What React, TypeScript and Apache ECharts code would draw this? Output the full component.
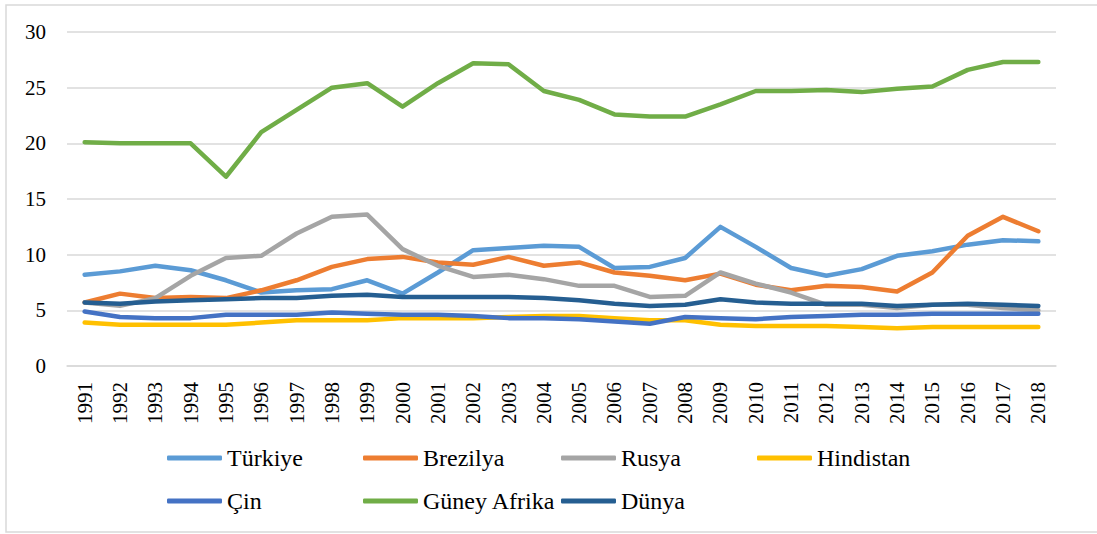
import React, { useEffect, useRef } from "react";
import * as echarts from "echarts";

const years = ["1991","1992","1993","1994","1995","1996","1997","1998","1999","2000","2001","2002","2003","2004","2005","2006","2007","2008","2009","2010","2011","2012","2013","2014","2015","2016","2017","2018"];
const yTicks = [0, 5, 10, 15, 20, 25, 30];

const turkiye = [8.2, 8.5, 9.0, 8.6, 7.7, 6.6, 6.8, 6.9, 7.7, 6.5, 8.4, 10.4, 10.6, 10.8, 10.7, 8.8, 8.9, 9.7, 12.5, 10.7, 8.8, 8.1, 8.7, 9.9, 10.3, 10.9, 11.3, 11.2];
const brezilya = [5.7, 6.5, 6.1, 6.2, 6.1, 6.8, 7.7, 8.9, 9.6, 9.8, 9.3, 9.1, 9.8, 9.0, 9.3, 8.4, 8.1, 7.7, 8.3, 7.3, 6.8, 7.2, 7.1, 6.7, 8.4, 11.7, 13.4, 12.1];
const rusya = [5.7, 5.4, 6.1, 8.1, 9.7, 9.9, 11.9, 13.4, 13.6, 10.5, 9.0, 8.0, 8.2, 7.8, 7.2, 7.2, 6.2, 6.3, 8.4, 7.4, 6.6, 5.5, 5.5, 5.2, 5.5, 5.5, 5.2, 5.0];
const hindistan = [3.9, 3.7, 3.7, 3.7, 3.7, 3.9, 4.1, 4.1, 4.1, 4.3, 4.3, 4.3, 4.4, 4.5, 4.5, 4.3, 4.1, 4.1, 3.7, 3.6, 3.6, 3.6, 3.5, 3.4, 3.5, 3.5, 3.5, 3.5];
const cin = [4.9, 4.4, 4.3, 4.3, 4.6, 4.6, 4.6, 4.8, 4.7, 4.6, 4.6, 4.5, 4.3, 4.3, 4.2, 4.0, 3.8, 4.4, 4.3, 4.2, 4.4, 4.5, 4.6, 4.6, 4.7, 4.7, 4.7, 4.7];
const guneyAfrika = [20.1, 20.0, 20.0, 20.0, 17.0, 21.0, 23.0, 25.0, 25.4, 23.3, 25.4, 27.2, 27.1, 24.7, 23.9, 22.6, 22.4, 22.4, 23.5, 24.7, 24.7, 24.8, 24.6, 24.9, 25.1, 26.6, 27.3, 27.3];
const dunya = [5.7, 5.6, 5.8, 5.9, 6.0, 6.1, 6.1, 6.3, 6.4, 6.2, 6.2, 6.2, 6.2, 6.1, 5.9, 5.6, 5.4, 5.5, 6.0, 5.7, 5.6, 5.6, 5.6, 5.4, 5.5, 5.6, 5.5, 5.4];

const seriesNames = ["Türkiye", "Brezilya", "Rusya", "Hindistan", "Çin", "Güney Afrika", "Dünya"];
const seriesData = [turkiye, brezilya, rusya, hindistan, cin, guneyAfrika, dunya];
const colors = ["#5B9BD5", "#ED7D31", "#A5A5A5", "#FFC000", "#4472C4", "#70AD47", "#255E91"];

const FONT = "Liberation Serif";

const legendPos = [
  { left: 167, top: 446 },
  { left: 363, top: 446 },
  { left: 561, top: 446 },
  { left: 757, top: 446 },
  { left: 167, top: 489 },
  { left: 363, top: 489 },
  { left: 561, top: 489 },
];

export default function App() {
  const ref = useRef<HTMLDivElement>(null);
  useEffect(() => {
    if (!ref.current) return;
    const chart = echarts.init(ref.current, undefined, { renderer: "svg" });
    chart.setOption({
      animation: false,
      backgroundColor: "#ffffff",
      textStyle: { fontFamily: FONT },
      graphic: [
        {
          type: "rect",
          shape: { x: 6, y: 5, width: 1100, height: 527 },
          style: { fill: "none", stroke: "#D9D9D9", lineWidth: 1.5 },
          silent: true,
        },
      ],
      legend: seriesNames.map((n, i) => ({
        data: [n],
        left: legendPos[i].left,
        top: legendPos[i].top,
        padding: 0,
        icon: "roundRect",
        itemWidth: 55,
        itemHeight: 5,
        textStyle: { fontFamily: FONT, fontSize: 24, color: "#000" },
      })),
      grid: { left: 67, right: 41, top: 32, bottom: 168 },
      xAxis: {
        type: "category",
        data: years,
        boundaryGap: true,
        axisLine: { show: true, lineStyle: { color: "#D9D9D9", width: 1.5 } },
        axisTick: { show: false },
        axisLabel: {
          interval: 0,
          rotate: 90,
          margin: 16,
          fontFamily: FONT,
          fontSize: 21,
          color: "#000",
        },
      },
      yAxis: {
        type: "value",
        min: yTicks[0],
        max: yTicks[yTicks.length - 1],
        interval: 5,
        axisLine: { show: false },
        axisTick: { show: false },
        splitLine: { lineStyle: { color: "#D9D9D9", width: 1.5 } },
        axisLabel: { margin: 21, fontFamily: FONT, fontSize: 21, color: "#000" },
      },
      series: seriesNames.map((n, i) => ({
        name: n,
        type: "line",
        data: seriesData[i],
        symbol: "none",
        color: colors[i],
        lineStyle: { width: 4.5, color: colors[i], cap: "round", join: "round" },
      })),
    });
    return () => chart.dispose();
  }, []);
  return (
    <div
      ref={ref}
      style={{ position: "fixed", left: 0, top: 0, width: 1097, height: 534 }}
    />
  );
}
